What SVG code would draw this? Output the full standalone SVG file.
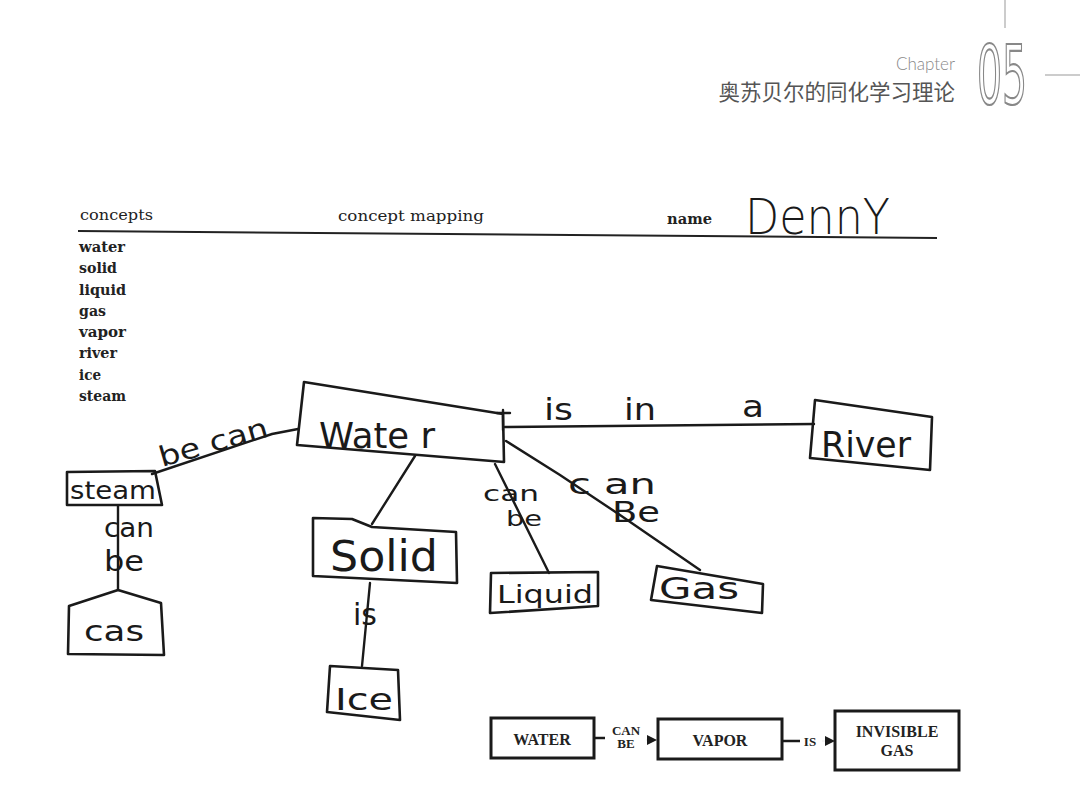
<svg xmlns="http://www.w3.org/2000/svg" width="1080" height="786" viewBox="0 0 1080 786">
<style>
.hand{font-family:"DejaVu Sans","Open Sans",sans-serif;fill:#1a1a1a}
.hb{fill:none;stroke:#1a1a1a;stroke-width:2.6;stroke-linejoin:round;stroke-linecap:round}
.hl{fill:none;stroke:#1a1a1a;stroke-width:2.4;stroke-linecap:round}
.serif{font-family:"DejaVu Serif","Liberation Serif",serif;fill:#222}
.pb{fill:none;stroke:#1a1a1a;stroke-width:3}
.pt{font-family:"Liberation Serif","DejaVu Serif",serif;font-weight:bold;fill:#222;text-anchor:middle}
</style>
<defs>
<marker id="tri" viewBox="0 0 10 10" refX="9" refY="5" markerWidth="10" markerHeight="10" markerUnits="userSpaceOnUse" orient="auto">
<path d="M0,0 L10,5 L0,10 Z" fill="#1a1a1a"/>
</marker>
</defs>
<rect width="1080" height="786" fill="#ffffff"/>

<!-- header -->
<g id="header">
<line x1="1005" y1="0" x2="1005" y2="28" stroke="#999" stroke-width="1"/>
<text x="955" y="70" text-anchor="end" font-family="Lato,'DejaVu Sans',sans-serif" font-weight="300" font-size="17" fill="#888">Chapter</text>
<text x="955" y="100" text-anchor="end" font-family="'Noto Sans CJK SC',sans-serif" font-size="21.5" fill="#555">奥苏贝尔的同化学习理论</text>
<text x="0" y="0" transform="translate(977,104) scale(0.48,1)" font-family="'DejaVu Sans',sans-serif" font-size="82" fill="none" stroke="#888" stroke-width="2.2">05</text>
<line x1="1045" y1="75" x2="1080" y2="75" stroke="#999" stroke-width="1"/>
</g>

<!-- form header -->
<g id="form">
<text class="serif" x="80" y="220" font-size="15.5" textLength="73" lengthAdjust="spacingAndGlyphs">concepts</text>
<text class="serif" x="338" y="221" font-size="15.5" textLength="146" lengthAdjust="spacingAndGlyphs">concept mapping</text>
<text class="serif" x="667" y="224" font-size="14" font-weight="bold" textLength="45" lengthAdjust="spacingAndGlyphs">name</text>
<text class="hand" x="745" y="234" font-size="50" font-weight="300" font-family="'Open Sans',sans-serif" textLength="145" lengthAdjust="spacingAndGlyphs">DennY</text>
<line x1="78" y1="231" x2="937" y2="238" stroke="#222" stroke-width="2"/>
<g class="serif" font-size="15" font-weight="bold">
<text x="79" y="252" textLength="46" lengthAdjust="spacingAndGlyphs">water</text>
<text x="79" y="273" textLength="38" lengthAdjust="spacingAndGlyphs">solid</text>
<text x="79" y="295" textLength="47" lengthAdjust="spacingAndGlyphs">liquid</text>
<text x="79" y="316" textLength="27" lengthAdjust="spacingAndGlyphs">gas</text>
<text x="79" y="337" textLength="47" lengthAdjust="spacingAndGlyphs">vapor</text>
<text x="79" y="358" textLength="38" lengthAdjust="spacingAndGlyphs">river</text>
<text x="79" y="380" textLength="22" lengthAdjust="spacingAndGlyphs">ice</text>
<text x="79" y="401" textLength="47" lengthAdjust="spacingAndGlyphs">steam</text>
</g>
</g>

<!-- connectors -->
<g id="connectors">
<path class="hl" d="M298,429 L272,434 L152,474"/>
<text class="hand" font-size="28" transform="translate(162,467) rotate(-16)" textLength="112" lengthAdjust="spacingAndGlyphs">be can</text>
<line class="hl" x1="118" y1="506" x2="118" y2="590"/>
<text class="hand" x="104" y="537" font-size="26" textLength="50" lengthAdjust="spacingAndGlyphs">can</text>
<text class="hand" x="104" y="571" font-size="28" textLength="40" lengthAdjust="spacingAndGlyphs">be</text>
<line class="hl" x1="415" y1="456" x2="372" y2="524"/>
<line class="hl" x1="370" y1="583" x2="362" y2="666"/>
<text class="hand" x="353" y="625" font-size="30">is</text>
<line class="hl" x1="495" y1="464" x2="549" y2="573"/>
<text class="hand" x="483" y="501" font-size="22" textLength="56" lengthAdjust="spacingAndGlyphs">can</text>
<text class="hand" x="506" y="526" font-size="22" textLength="36" lengthAdjust="spacingAndGlyphs">be</text>
<path class="hl" d="M506,441 L560,475 L620,515 L700,570"/>
<text class="hand" x="568" y="494" font-size="28" textLength="88" lengthAdjust="spacingAndGlyphs">c an</text>
<text class="hand" x="612" y="522" font-size="28" textLength="48" lengthAdjust="spacingAndGlyphs">Be</text>
<line class="hl" x1="505" y1="427" x2="814" y2="424"/>
<line class="hl" x1="503" y1="410" x2="503" y2="430"/>
<line class="hl" x1="497" y1="413" x2="510" y2="413"/>
<text class="hand" x="544" y="420" font-size="30" textLength="29" lengthAdjust="spacingAndGlyphs">is</text>
<text class="hand" x="624" y="420" font-size="30" textLength="32" lengthAdjust="spacingAndGlyphs">in</text>
<text class="hand" x="742" y="417" font-size="30" textLength="22" lengthAdjust="spacingAndGlyphs">a</text>
</g>

<!-- handwritten nodes -->
<g id="node-water">
<path class="hb" d="M304,382 L503,414 L504,462 L297,445 Z"/>
<text class="hand" x="319" y="448" font-size="36" textLength="116" lengthAdjust="spacingAndGlyphs">Wate r</text>
</g>
<g id="node-steam">
<path class="hb" d="M67,472 L155,471 L162,505 L67,505 Z"/>
<text class="hand" x="70" y="499" font-size="25" textLength="86" lengthAdjust="spacingAndGlyphs">steam</text>
</g>
<g id="node-cas">
<path class="hb" d="M118,590 L69,606 L68,654 L164,655 L161,603 Z"/>
<text class="hand" x="84" y="641" font-size="28" textLength="60" lengthAdjust="spacingAndGlyphs">cas</text>
</g>
<g id="node-solid">
<path class="hb" d="M313,518 L352,519 L372,527 L456,532 L457,583 L313,576 Z"/>
<text class="hand" x="330" y="571" font-size="42" textLength="108" lengthAdjust="spacingAndGlyphs">Solid</text>
</g>
<g id="node-ice">
<path class="hb" d="M330,666 L398,670 L400,720 L327,712 Z"/>
<text class="hand" x="335" y="710" font-size="30" textLength="58" lengthAdjust="spacingAndGlyphs">Ice</text>
</g>
<g id="node-liquid">
<path class="hb" d="M491,573 L598,572 L598,606 L490,613 Z"/>
<text class="hand" x="497" y="603" font-size="25" textLength="96" lengthAdjust="spacingAndGlyphs">Liquid</text>
</g>
<g id="node-gas">
<path class="hb" d="M657,566 L763,584 L762,613 L651,600 Z"/>
<text class="hand" x="659" y="599" font-size="30" textLength="80" lengthAdjust="spacingAndGlyphs">Gas</text>
</g>
<g id="node-river">
<path class="hb" d="M815,400 L932,417 L930,470 L810,458 Z"/>
<text class="hand" x="821" y="457" font-size="35" textLength="90" lengthAdjust="spacingAndGlyphs">River</text>
</g>

<!-- printed chain -->
<g id="node-WATER">
<rect class="pb" x="491" y="718" width="103" height="40"/>
<text class="pt" x="542" y="745" font-size="16">WATER</text>
</g>
<g id="node-VAPOR">
<rect class="pb" x="658" y="719" width="124" height="40"/>
<text class="pt" x="720" y="746" font-size="16">VAPOR</text>
</g>
<g id="node-INVISIBLE">
<rect class="pb" x="835" y="711" width="124" height="59"/>
<text class="pt" x="897" y="737" font-size="16">INVISIBLE</text>
<text class="pt" x="897" y="756" font-size="16">GAS</text>
</g>
<g id="printed-connectors">
<line x1="594" y1="738" x2="605" y2="738" stroke="#1a1a1a" stroke-width="2.5"/>
<text class="pt" x="626" y="735" font-size="13">CAN</text>
<text class="pt" x="626" y="748" font-size="13">BE</text>
<line x1="646" y1="740" x2="656" y2="740" stroke="#1a1a1a" stroke-width="0.1" marker-end="url(#tri)"/>
<line x1="782" y1="741" x2="800" y2="741" stroke="#1a1a1a" stroke-width="2.5"/>
<text class="pt" x="810" y="746" font-size="13">IS</text>
<line x1="822" y1="741" x2="834" y2="741" stroke="#1a1a1a" stroke-width="0.1" marker-end="url(#tri)"/>
</g>
</svg>
